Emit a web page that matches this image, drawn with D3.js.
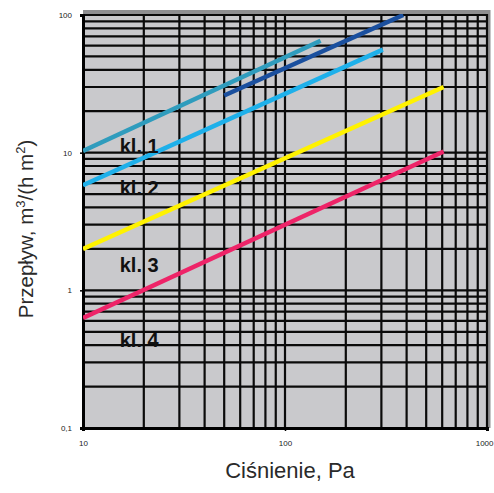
<!DOCTYPE html>
<html>
<head>
<meta charset="utf-8">
<script src="https://cdn.jsdelivr.net/npm/d3@7"></script>
<style>
  html, body { margin: 0; padding: 0; background: #ffffff; }
  svg { display: block; }
</style>
</head>
<body>
<svg id="chart" width="494" height="493"></svg>
<script>
// ---- data ----
const xDomain = [10, 1000];
const yDomain = [0.1, 100];
const xTickValues = [10, 100, 1000];
const xTickLabels = ["10", "100", "1000"];
const yTickValues = [0.1, 1, 10, 100];
const yTickLabels = ["0,1", "1", "10", "100"];

const seriesNames = ["teal", "blue", "navy", "yellow", "pink"];
const seriesX = [
  [10, 150],
  [10, 305],
  [50, 385],
  [10, 610],
  [10, 610]
];
const seriesY = [
  [10.3, 65],
  [5.8, 56],
  [26, 100],
  [2.0, 30],
  [0.63, 10.2]
];
const seriesColors = ["#2f9cbd", "#1eb0ea", "#1a4f9e", "#fff200", "#ee2468"];

const classLabels = ["kl. 1", "kl. 2", "kl. 3", "kl. 4"];
const classLabelY = [10.0, 4.9, 1.36, 0.39];   // data-space positions of label baselines
const classLabelX = 15.2;

const xTitle = "Ciśnienie, Pa";

// ---- layout ----
const svg = d3.select("#chart");
const L = 83, R = 487, T = 15, B = 428;
const x = d3.scaleLog().domain(xDomain).range([L, R]);
const y = d3.scaleLog().domain(yDomain).range([B, T]);

// background
svg.append("rect").attr("x", L).attr("y", T - 3).attr("width", R - L + 3).attr("height", B - T + 3)
  .attr("fill", "#c9c9cc");

// top and right gray frame
svg.append("line").attr("x1", L).attr("x2", R + 3).attr("y1", T - 3).attr("y2", T - 3)
  .attr("stroke", "#8e8e90").attr("stroke-width", 4);
svg.append("line").attr("x1", R + 1.5).attr("x2", R + 1.5).attr("y1", T - 5).attr("y2", B)
  .attr("stroke", "#8e8e90").attr("stroke-width", 4);

// grid values
function logMinor(lo, hi) {
  const out = [];
  for (let d = lo; d < hi; d *= 10) {
    for (let k = 1; k <= 9; k++) {
      const v = d * k;
      if (v > lo && v < hi) out.push(v);
    }
  }
  return out;
}
const xGrid = logMinor(xDomain[0], xDomain[1]).concat([xDomain[1]]);
const yGrid = logMinor(yDomain[0], yDomain[1]).concat([yDomain[1]]);

const grid = svg.append("g").attr("stroke", "#0a0a0a").attr("stroke-width", 2.2);
grid.selectAll("line.v").data(xGrid).join("line").attr("class", "v")
  .attr("x1", d => x(d)).attr("x2", d => x(d)).attr("y1", T - 1).attr("y2", B);
grid.selectAll("line.h").data(yGrid).join("line").attr("class", "h")
  .attr("x1", L).attr("x2", R).attr("y1", d => y(d)).attr("y2", d => y(d));

// axes
const xAxis = d3.axisBottom(x).tickValues(xTickValues).tickFormat((d, i) => xTickLabels[i]).tickSize(3).tickPadding(8);
const yAxis = d3.axisLeft(y).tickValues(yTickValues).tickFormat((d, i) => yTickLabels[i]).tickSize(3).tickPadding(8);

const gx = svg.append("g").attr("transform", `translate(0,${B})`).call(xAxis);
const gy = svg.append("g").attr("transform", `translate(${L},0)`).call(yAxis);
[gx, gy].forEach(g => {
  g.select(".domain").attr("stroke", "#000").attr("stroke-width", 3);
  g.selectAll(".tick line").attr("stroke", "#000").attr("stroke-width", 1.5);
  g.selectAll(".tick text").attr("font-family", "Liberation Sans, Arial, sans-serif")
    .attr("font-size", 8).attr("fill", "#222");
});
gx.selectAll(".tick text").attr("dy", "0.9em");
// last x label sits against the right edge of the page
gx.selectAll(".tick text").filter(d => d === xDomain[1])
  .attr("text-anchor", "end").attr("x", 494 - R - 1);

// series lines
const lineGen = d3.line().x(d => x(d[0])).y(d => y(d[1]));
svg.append("defs").append("clipPath").attr("id", "plotclip")
  .append("rect").attr("x", L).attr("y", T - 1).attr("width", R - L).attr("height", B - T + 1);
const lines = svg.append("g").attr("clip-path", "url(#plotclip)");
seriesNames.forEach((name, i) => {
  const pts = seriesX[i].map((vx, j) => [vx, seriesY[i][j]]);
  lines.append("path").attr("d", lineGen(pts)).attr("fill", "none")
    .attr("stroke", seriesColors[i]).attr("stroke-width", 4.5).attr("stroke-linecap", "butt");
});

// class labels
svg.append("g").selectAll("text").data(classLabels).join("text")
  .attr("x", x(classLabelX)).attr("y", (d, i) => y(classLabelY[i]))
  .attr("font-family", "Liberation Sans, Arial, sans-serif").attr("font-weight", "bold")
  .attr("font-size", 20).attr("fill", "#111").text(d => d);

// axis titles
svg.append("text").attr("x", 290).attr("y", 478).attr("text-anchor", "middle")
  .attr("font-family", "Liberation Sans, Arial, sans-serif").attr("font-size", 22).attr("fill", "#2a2a2a")
  .text(xTitle);

const yt = svg.append("text").attr("transform", "translate(33,229) rotate(-90)").attr("text-anchor", "middle")
  .attr("font-family", "Liberation Sans, Arial, sans-serif").attr("font-size", 20.5).attr("fill", "#2a2a2a");
yt.append("tspan").text("Przepływ, m");
yt.append("tspan").attr("font-size", 13).attr("dy", -8).text("3");
yt.append("tspan").attr("dy", 8).text("/(h m");
yt.append("tspan").attr("font-size", 13).attr("dy", -8).text("2");
yt.append("tspan").attr("dy", 8).text(")");
</script>
</body>
</html>
